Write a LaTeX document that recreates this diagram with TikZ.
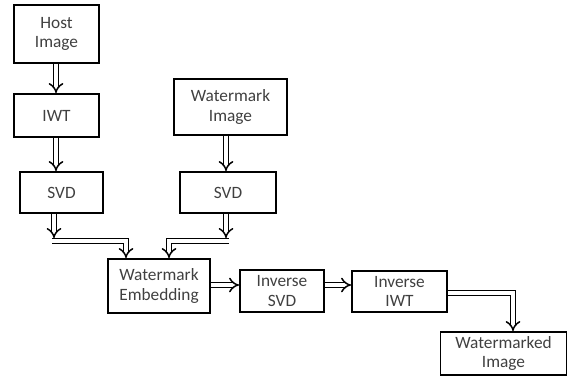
\documentclass[tikz,border=0pt]{standalone}
\usepackage{fontspec}
\setmainfont{Carlito}
\usetikzlibrary{arrows.meta}
\definecolor{txt}{RGB}{64,64,64}
\tikzset{
  box/.style={draw=black, line width=1.9bp, rectangle, align=center, inner sep=0pt,
    font=\fontsize{17.3bp}{19.5bp}\selectfont, text=txt},
  dbl/.style={draw=black, line width=1.5bp, double=white, double distance=3.5bp,
    line join=miter, -{Implies[length=6bp, width=11bp]}}
}
\begin{document}
\begin{tikzpicture}[x=1bp, y=-1bp]
\useasboundingbox (0,0) rectangle (568,376);
\node[box, minimum width=85bp, minimum height=58bp] (host) at (56.5,34) {Host\\Image};
\node[box, minimum width=85bp, minimum height=43bp] (iwt) at (56.5,115.5) {IWT};
\node[box, minimum width=83bp, minimum height=41bp] (svd1) at (61.5,192.5) {SVD};
\node[box, minimum width=113bp, minimum height=56bp] (wm) at (230.5,107) {Watermark\\Image};
\node[box, minimum width=96bp, minimum height=41bp] (svd2) at (228,192.5) {SVD};
\node[box, minimum width=102bp, minimum height=54bp] (emb) at (159,286) {Watermark\\Embedding};
\node[box, minimum width=84bp, minimum height=42bp] (isvd) at (282,291) {Inverse\\SVD};
\node[box, minimum width=95bp, minimum height=41bp] (iiwt) at (399.5,291.5) {Inverse\\IWT};
\node[box, minimum width=126bp, minimum height=43bp] (out) at (503.5,353.5) {Watermarked\\Image};

\coordinate (a1) at (56,0);
\coordinate (a2) at (226,0);
\coordinate (l1) at (54,238);
\coordinate (l2) at (52,241);
\coordinate (l3) at (126,241);
\coordinate (r1) at (226,238);
\coordinate (r2) at (229,241);
\coordinate (r3) at (169,241);
\coordinate (h1) at (0,285);
\coordinate (o1) at (513,293);

\draw[dbl] (host.south -| a1) -- (iwt.north -| a1);
\draw[dbl] (iwt.south -| a1) -- (svd1.north -| a1);
\draw[dbl] (wm.south -| a2) -- (svd2.north -| a2);

\draw[dbl] (svd1.south -| l1) -- (l1);
\draw[dbl] (l2) -- (l3) -- (l3 |- emb.north);
\draw[dbl] (svd2.south -| r1) -- (r1);
\draw[dbl] (r2) -- (r3) -- (r3 |- emb.north);

\draw[dbl] (emb.east |- h1) -- (isvd.west |- h1);
\draw[dbl] (isvd.east |- h1) -- (iiwt.west |- h1);
\draw[dbl] (iiwt.east |- o1) -- (o1) -- (o1 |- out.north);
\end{tikzpicture}
\end{document}
